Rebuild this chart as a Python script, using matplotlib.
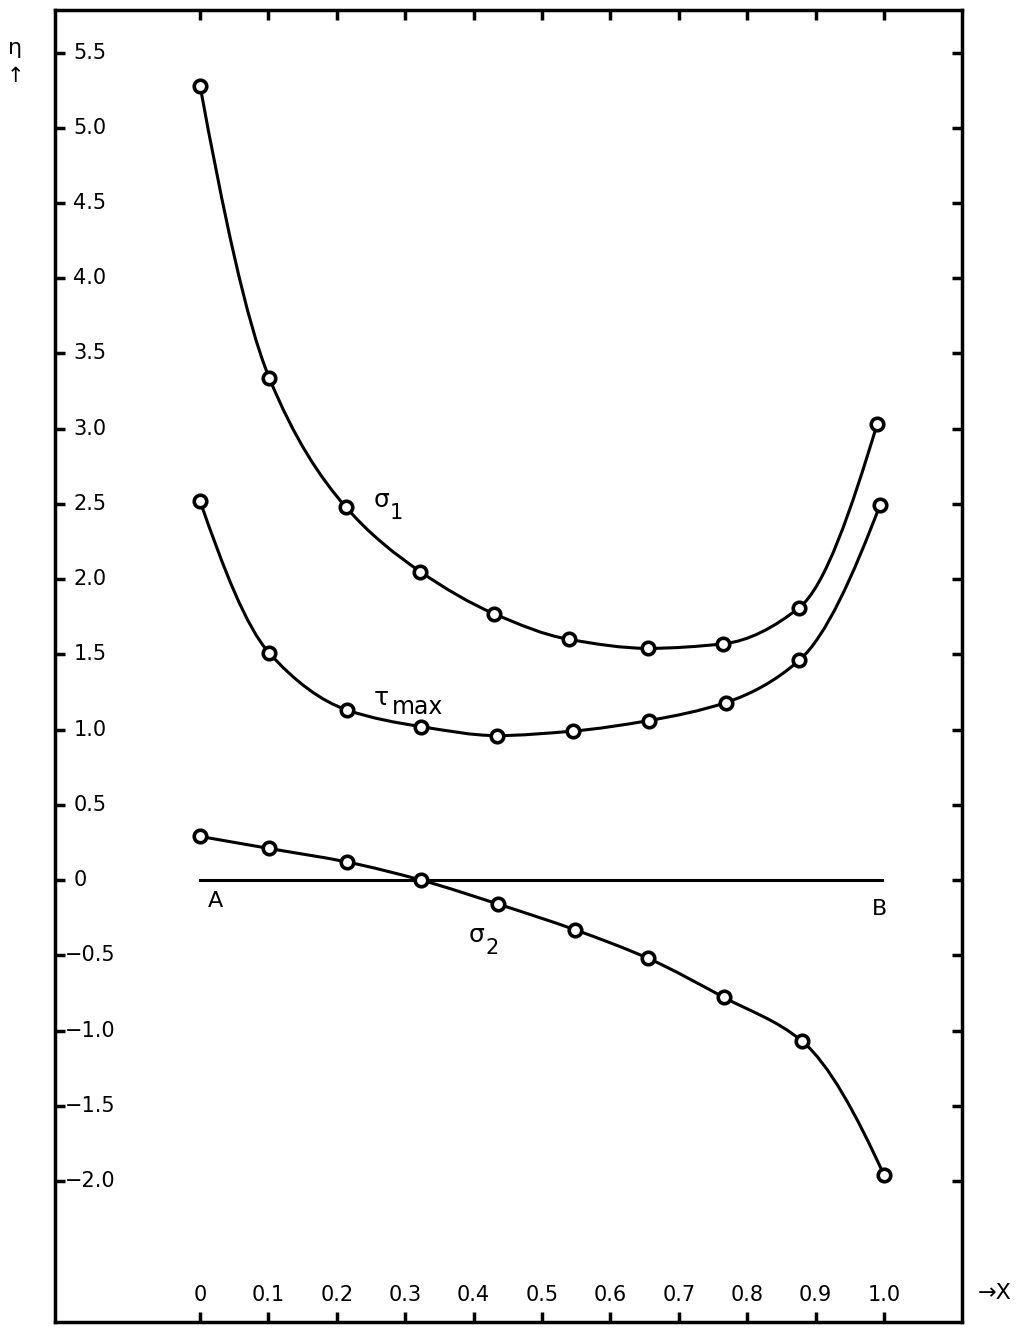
import numpy as np
import matplotlib.pyplot as plt
from matplotlib.path import Path
from matplotlib.patches import PathPatch

# values (x = position along AB, eta = stress ratio)
x_sigma1 = [0.0, 0.101, 0.213, 0.322, 0.430, 0.539, 0.655, 0.765, 0.876, 0.990]
eta_sigma1 = [5.28, 3.34, 2.48, 2.05, 1.77, 1.60, 1.54, 1.57, 1.81, 3.03]

x_tau = [0.0, 0.101, 0.215, 0.323, 0.434, 0.545, 0.656, 0.769, 0.876, 0.994]
eta_tau = [2.52, 1.51, 1.13, 1.02, 0.96, 0.99, 1.06, 1.18, 1.46, 2.49]

x_sigma2 = [0.0, 0.101, 0.215, 0.323, 0.436, 0.548, 0.655, 0.766, 0.880, 1.0]
eta_sigma2 = [0.29, 0.21, 0.12, 0.0, -0.16, -0.33, -0.52, -0.78, -1.07, -1.96]

x_ticks = [0.0, 0.1, 0.2, 0.3, 0.4, 0.5, 0.6, 0.7, 0.8, 0.9, 1.0]
x_labels = ['0', '0.1', '0.2', '0.3', '0.4', '0.5', '0.6', '0.7', '0.8', '0.9', '1.0']
y_ticks = [-2.0, -1.5, -1.0, -0.5, 0.0, 0.5, 1.0, 1.5, 2.0, 2.5, 3.0, 3.5, 4.0, 4.5, 5.0, 5.5]
y_labels = ['\u22122.0', '\u22121.5', '\u22121.0', '\u22120.5', '0', '0.5', '1.0', '1.5',
            '2.0', '2.5', '3.0', '3.5', '4.0', '4.5', '5.0', '5.5']


def end_slope(h0, h1, m0, m1):
    d = ((2 * h0 + h1) * m0 - h0 * m1) / (h0 + h1)
    if np.sign(d) != np.sign(m0):
        return 0.0
    if np.sign(m0) != np.sign(m1) and abs(d) > 3 * abs(m0):
        return 3 * m0
    return d


def smooth_path(x, y):
    # monotone (Fritsch-Carlson style) cubic through the points, drawn as Bezier segments
    x = np.asarray(x, float)
    y = np.asarray(y, float)
    h = np.diff(x)
    m = np.diff(y) / h
    n = len(x)
    d = np.zeros(n)
    for k in range(1, n - 1):
        if m[k - 1] * m[k] > 0:
            w1 = 2 * h[k] + h[k - 1]
            w2 = h[k] + 2 * h[k - 1]
            d[k] = (w1 + w2) / (w1 / m[k - 1] + w2 / m[k])
    d[0] = end_slope(h[0], h[1], m[0], m[1])
    d[-1] = end_slope(h[-1], h[-2], m[-1], m[-2])
    verts = [(x[0], y[0])]
    codes = [Path.MOVETO]
    for k in range(n - 1):
        verts += [(x[k] + h[k] / 3, y[k] + d[k] * h[k] / 3),
                  (x[k + 1] - h[k] / 3, y[k + 1] - d[k + 1] * h[k] / 3),
                  (x[k + 1], y[k + 1])]
        codes += [Path.CURVE4] * 3
    return Path(verts, codes)


plt.rcParams['font.family'] = ['DejaVu Sans']

fig = plt.figure(figsize=(10.19, 13.29), dpi=100)
ax = fig.add_axes([0.054, 0.0053, 0.890, 0.987])
ax.set_xlim(-0.212, 1.114)
ax.set_ylim(-2.937, 5.781)

for s in ax.spines.values():
    s.set_linewidth(2.5)
ax.set_xticks(x_ticks)
ax.set_yticks(y_ticks)
ax.tick_params(direction='in', length=7, width=2.5, top=True, right=True,
               labelbottom=False, labelleft=False)

# baseline A-B
ax.plot([x_sigma2[0], 0.997], [0, 0], color='black', lw=2.2, zorder=2)

for xs, ys in [(x_sigma1, eta_sigma1), (x_tau, eta_tau), (x_sigma2, eta_sigma2)]:
    ax.add_patch(PathPatch(smooth_path(xs, ys), fill=False, edgecolor='black', lw=2.2, zorder=2))
    ax.plot(xs, ys, 'o', ms=9, mfc='white', mec='black', mew=2.6, zorder=3)

# tick labels sit inside the frame
for v, lab in zip(y_ticks, y_labels):
    xpos = -0.198 if v < 0 else -0.185
    ax.text(xpos, v, lab, fontsize=15, ha='left', va='center')
for v, lab in zip(x_ticks, x_labels):
    ax.text(v, -2.757, lab, fontsize=15, ha='center', va='center')

# curve names (symbol + large subscript, as in the print)
ax.text(0.265, 2.525, '\u03c3', fontsize=18, ha='center', va='center')
ax.text(0.287, 2.44, '1', fontsize=15, ha='center', va='center')
ax.text(0.265, 1.21, '\u03c4', fontsize=18, ha='center', va='center')
ax.text(0.281, 1.15, 'max', fontsize=17, ha='left', va='center')
ax.text(0.405, -0.365, '\u03c3', fontsize=18, ha='center', va='center')
ax.text(0.427, -0.45, '2', fontsize=15, ha='center', va='center')
ax.text(0.022, -0.14, 'A', fontsize=16, ha='center', va='center')
ax.text(0.994, -0.19, 'B', fontsize=16, ha='center', va='center')

fig.text(15 / 1019, 1 - 48 / 1329, '\u03b7', fontsize=16, ha='center', va='center')
fig.text(15 / 1019, 1 - 76 / 1329, '\u2191', fontsize=15, ha='center', va='center')
fig.text(995 / 1019, 1 - 1293 / 1329, '\u2192X', fontsize=16, ha='center', va='center')

fig.savefig('out.png', dpi=100)
